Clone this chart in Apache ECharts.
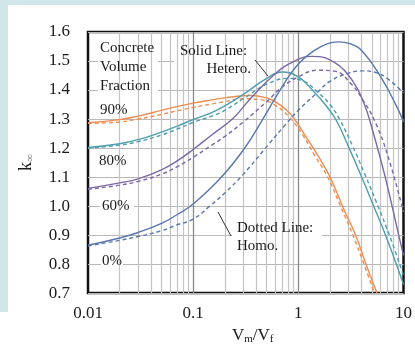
<!DOCTYPE html>
<html><head><meta charset="utf-8">
<script src="https://cdn.jsdelivr.net/npm/echarts@6/dist/echarts.min.js"></script>
<style>html,body{margin:0;padding:0;background:#fff}#c{width:415px;height:350px}</style>
</head><body><div id="c"></div>
<script>
// ---- data ----
const xTickLabels = ['0.01', '0.1', '1', '10'];
const yMin = 0.7, yMax = 1.6;
const minorGridX = [0.02,0.03,0.04,0.05,0.06,0.07,0.08,0.09,0.2,0.3,0.4,0.5,0.6,0.7,0.8,0.9,2,3,4,5,6,7,8,9];
const majorGridX = [0.1, 1];

// 90% concrete
const het90X = [0.01,0.02,0.03,0.05,0.07,0.1,0.15,0.2,0.35,0.5,0.6,0.75,0.9,1.2,1.5,2,2.7,3.5,4.5,5.6];
const het90Y = [1.287,1.298,1.31,1.33,1.343,1.355,1.366,1.373,1.381,1.373,1.36,1.335,1.305,1.235,1.18,1.10,0.99,0.90,0.79,0.70];
const hom90X = [0.01,0.02,0.03,0.05,0.07,0.1,0.15,0.2,0.3,0.45,0.6,0.83,1.1,1.4,1.9,2.55,3.3,4.2,5.3];
const hom90Y = [1.285,1.29,1.30,1.316,1.328,1.34,1.352,1.36,1.37,1.366,1.348,1.305,1.245,1.18,1.10,0.995,0.90,0.80,0.70];
// 80% concrete
const het80X = [0.01,0.02,0.03,0.05,0.07,0.1,0.15,0.2,0.3,0.5,0.7,1.0,1.4,1.8,2.3,3,4,5,7,10];
const het80Y = [1.202,1.215,1.229,1.255,1.275,1.298,1.322,1.345,1.385,1.44,1.462,1.445,1.395,1.35,1.295,1.205,1.10,1.015,0.885,0.73];
const hom80X = [0.01,0.02,0.03,0.05,0.07,0.1,0.15,0.2,0.3,0.5,0.8,1.1,1.5,2,2.5,3.3,4.4,5.5,7.6,10];
const hom80Y = [1.20,1.21,1.222,1.245,1.265,1.288,1.31,1.33,1.37,1.42,1.44,1.432,1.395,1.35,1.295,1.205,1.10,1.015,0.885,0.76];
// 60% concrete
const het60X = [0.01,0.02,0.03,0.05,0.07,0.1,0.15,0.24,0.35,0.6,0.92,1.34,2.2,3.3,4.2,5,6.7,9,10];
const het60Y = [1.061,1.08,1.094,1.125,1.155,1.195,1.245,1.303,1.37,1.455,1.50,1.516,1.495,1.43,1.355,1.27,1.10,0.90,0.83];
const hom60X = [0.01,0.02,0.03,0.05,0.07,0.1,0.15,0.2,0.3,0.5,0.7,1.0,1.5,2.2,3.2,4.2,5.3,7,10];
const hom60Y = [1.058,1.072,1.085,1.11,1.135,1.168,1.21,1.24,1.29,1.36,1.41,1.445,1.468,1.465,1.42,1.36,1.295,1.18,0.98];
// 0% concrete
const het0X = [0.01,0.02,0.03,0.05,0.07,0.1,0.186,0.316,0.46,0.74,1.0,1.4,1.9,2.4,3.1,4.1,6.2,8.7,10];
const het0Y = [0.865,0.89,0.909,0.94,0.97,1.007,1.10,1.205,1.30,1.425,1.49,1.535,1.56,1.566,1.56,1.532,1.44,1.34,1.29];
const hom0X = [0.01,0.02,0.03,0.05,0.07,0.1,0.144,0.2,0.3,0.52,0.75,1.0,1.5,2,3,4.1,5.5,7,10];
const hom0Y = [0.862,0.882,0.895,0.915,0.935,0.955,1.0,1.045,1.11,1.212,1.28,1.33,1.39,1.43,1.458,1.466,1.46,1.44,1.39];

// ---- styles ----
const ORANGE = '#ee8d52', TEAL = '#4d9fae', PURPLE = '#7b68a6', BLUE = '#5877ad';
const SERIF = '"Liberation Serif","Times New Roman",serif';
const TXT = '#1a1a1a';

function pairs(xs, ys) { return xs.map((x, i) => [x, ys[i]]); }
function curve(name, xs, ys, color, dashed) {
  return {
    name, type: 'line', data: pairs(xs, ys), smooth: 0.45,
    showSymbol: false, symbol: 'none', z: 5, clip: true,
    lineStyle: { color, width: 1.4, type: dashed ? [4, 3] : 'solid' }
  };
}

const chart = echarts.init(document.getElementById('c'), null, { renderer: 'canvas' });
const option = {
  animation: false,
  backgroundColor: '#ffffff',
  grid: { left: 88, right: 3, top: 32, bottom: 51, show: true, borderColor: '#111', borderWidth: 2.5, z: 0 },
  xAxis: {
    type: 'log', logBase: 10, min: 0.01, max: 10,
    axisLine: { show: false }, axisTick: { show: false },
    axisLabel: {
      fontFamily: SERIF, fontSize: 17, color: TXT, margin: 12, align: 'center',
      alignMinLabel: 'center', alignMaxLabel: 'center', hideOverlap: false,
      formatter: v => xTickLabels[Math.round(Math.log10(v) + 2)] ?? ''
    },
    splitLine: { show: false },
    name: 'V{s|m}/V{s|f}', nameLocation: 'middle', nameGap: 26,
    nameTextStyle: {
      fontFamily: SERIF, fontSize: 17, color: TXT, padding: [0, 0, 0, 14],
      rich: { s: { fontFamily: SERIF, fontSize: 11, color: TXT, verticalAlign: 'bottom', padding: [8, 0, 0, 0] } }
    }
  },
  yAxis: {
    type: 'value', min: yMin, max: yMax, interval: 0.1,
    axisLine: { show: false }, axisTick: { show: false },
    axisLabel: { fontFamily: SERIF, fontSize: 17, color: TXT, margin: 18, formatter: v => v.toFixed(1) },
    splitLine: { show: true, lineStyle: { color: '#b8b8b8', width: 1.2 } },
    name: '{k|k}{s|∞}', nameLocation: 'middle', nameGap: 52, nameRotate: 90,
    nameTextStyle: {
      rich: {
        k: { fontFamily: SERIF, fontSize: 18, color: TXT },
        s: { fontFamily: SERIF, fontSize: 11, color: '#777', verticalAlign: 'bottom', padding: [8, 0, 0, 0] }
      }
    }
  },
  graphic: [
    { type: 'rect', shape: { x: 0, y: 0, width: 415, height: 5 }, style: { fill: '#d0e6e9' }, z: 0, silent: true },
    { type: 'rect', shape: { x: 0, y: 0, width: 8, height: 312 }, style: { fill: '#d0e6e9' }, z: 0, silent: true },
    { type: 'rect', shape: { x: 98, y: 38, width: 60, height: 55 }, style: { fill: '#fff' }, z: 3, silent: true },
    { type: 'rect', shape: { x: 174, y: 37, width: 82, height: 47 }, style: { fill: '#fff' }, z: 3, silent: true },
    { type: 'rect', shape: { x: 99, y: 102, width: 36, height: 17 }, style: { fill: '#fff' }, z: 3, silent: true },
    { type: 'rect', shape: { x: 98, y: 153, width: 38, height: 17 }, style: { fill: '#fff' }, z: 3, silent: true },
    { type: 'rect', shape: { x: 100, y: 198, width: 34, height: 16 }, style: { fill: '#fff' }, z: 3, silent: true },
    { type: 'rect', shape: { x: 101, y: 253, width: 22, height: 19 }, style: { fill: '#fff' }, z: 3, silent: true },
    { type: 'rect', shape: { x: 232, y: 218, width: 90, height: 40 }, style: { fill: '#fff' }, z: 3, silent: true },
    { type: 'line', shape: { x1: 255, y1: 60, x2: 268, y2: 76 }, style: { stroke: '#333', lineWidth: 1 }, z: 6, silent: true },
    { type: 'line', shape: { x1: 218, y1: 212, x2: 231, y2: 236 }, style: { stroke: '#333', lineWidth: 1 }, z: 6, silent: true },
    { type: 'text', style: { text: 'Concrete', x: 100, y: 48, fontFamily: SERIF, fontSize: 15, fill: TXT, verticalAlign: 'middle' }, z: 7 },
    { type: 'text', style: { text: 'Volume', x: 100, y: 67, fontFamily: SERIF, fontSize: 15, fill: TXT, verticalAlign: 'middle' }, z: 7 },
    { type: 'text', style: { text: 'Fraction', x: 100, y: 86, fontFamily: SERIF, fontSize: 15, fill: TXT, verticalAlign: 'middle' }, z: 7 },
    { type: 'text', style: { text: '90%', x: 100, y: 110, fontFamily: SERIF, fontSize: 15, fill: TXT, verticalAlign: 'middle' }, z: 7 },
    { type: 'text', style: { text: '80%', x: 99, y: 161, fontFamily: SERIF, fontSize: 15, fill: TXT, verticalAlign: 'middle' }, z: 7 },
    { type: 'text', style: { text: '60%', x: 102, y: 206, fontFamily: SERIF, fontSize: 15, fill: TXT, verticalAlign: 'middle' }, z: 7 },
    { type: 'text', style: { text: '0%', x: 102, y: 261, fontFamily: SERIF, fontSize: 15, fill: TXT, verticalAlign: 'middle' }, z: 7 },
    { type: 'text', style: { text: 'Solid Line:', x: 180, y: 51, fontFamily: SERIF, fontSize: 15, fill: TXT, verticalAlign: 'middle' }, z: 7 },
    { type: 'text', style: { text: 'Hetero.', x: 251, y: 69, fontFamily: SERIF, fontSize: 15, fill: TXT, verticalAlign: 'middle', align: 'right' }, z: 7 },
    { type: 'text', style: { text: 'Dotted Line:', x: 237, y: 228, fontFamily: SERIF, fontSize: 15, fill: TXT, verticalAlign: 'middle' }, z: 7 },
    { type: 'text', style: { text: 'Homo.', x: 237, y: 246, fontFamily: SERIF, fontSize: 15, fill: TXT, verticalAlign: 'middle' }, z: 7 }
  ],
  series: [
    {
      type: 'line', data: [], z: 1, silent: true,
      markLine: {
        silent: true, symbol: ['none', 'none'], label: { show: false }, animation: false,
        lineStyle: { color: '#c4c4c4', width: 1.2, type: 'solid' },
        data: minorGridX.map(v => ({ xAxis: v }))
      }
    },
    {
      type: 'line', data: [], z: 1, silent: true,
      markLine: {
        silent: true, symbol: ['none', 'none'], label: { show: false }, animation: false,
        lineStyle: { color: '#8a8a8a', width: 1.3, type: 'solid' },
        data: majorGridX.map(v => ({ xAxis: v }))
      }
    },
    curve('Homo. 90%', hom90X, hom90Y, ORANGE, true),
    curve('Hetero. 90%', het90X, het90Y, ORANGE, false),
    curve('Homo. 80%', hom80X, hom80Y, TEAL, true),
    curve('Hetero. 80%', het80X, het80Y, TEAL, false),
    curve('Homo. 60%', hom60X, hom60Y, PURPLE, true),
    curve('Hetero. 60%', het60X, het60Y, PURPLE, false),
    curve('Homo. 0%', hom0X, hom0Y, BLUE, true),
    curve('Hetero. 0%', het0X, het0Y, BLUE, false)
  ]
};
chart.setOption(option);
</script>
</body></html>
